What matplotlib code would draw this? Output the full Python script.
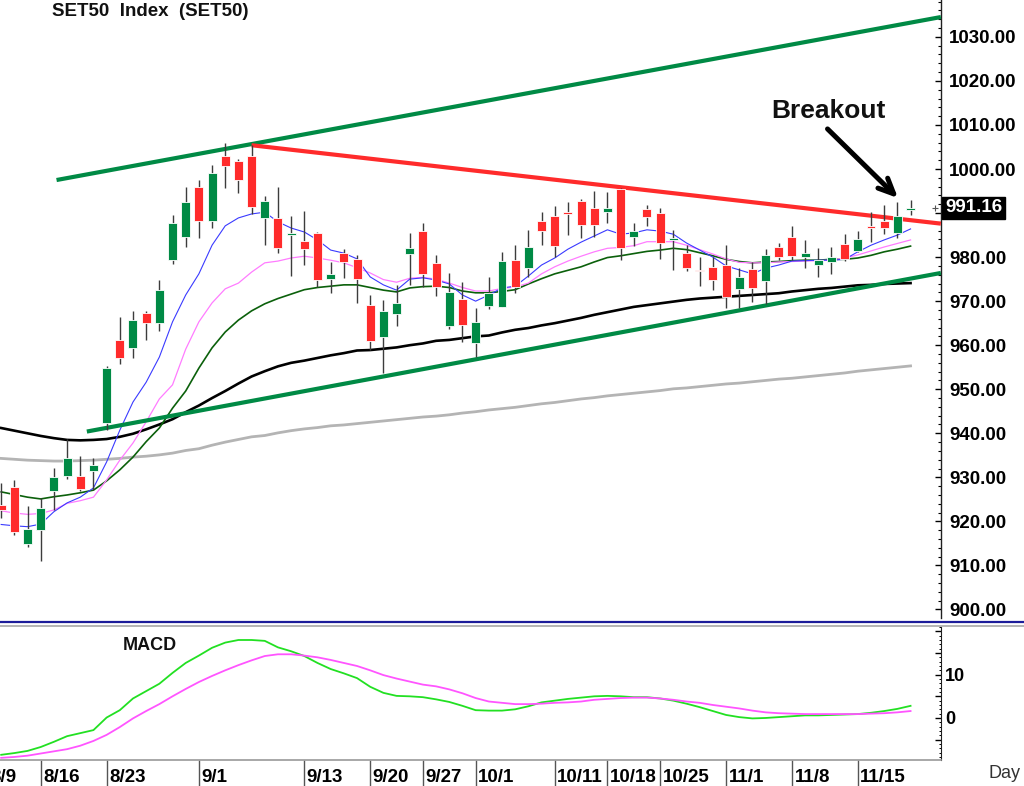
import matplotlib
matplotlib.use('Agg')
import matplotlib.pyplot as plt
from matplotlib.lines import Line2D
from matplotlib.transforms import blended_transform_factory, ScaledTranslation
from matplotlib.ticker import MultipleLocator, FixedLocator
import numpy as np

plt.rcParams['font.family'] = ['Liberation Sans', 'DejaVu Sans']

# ---------------- data ----------------
dates = ['8/10', '8/11', '8/13', '8/16', '8/17', '8/18', '8/19', '8/20', '8/23', '8/24',
         '8/25', '8/26', '8/27', '8/30', '8/31', '9/1', '9/2', '9/3', '9/6', '9/7',
         '9/8', '9/9', '9/10', '9/13', '9/14', '9/15', '9/16', '9/17', '9/20', '9/21',
         '9/22', '9/23', '9/27', '9/28', '9/29', '9/30', '10/1', '10/4', '10/5', '10/6',
         '10/7', '10/8', '10/11', '10/12', '10/14', '10/15', '10/18', '10/19', '10/20', '10/21',
         '10/25', '10/26', '10/27', '10/28', '10/29', '11/1', '11/2', '11/3', '11/4', '11/5',
         '11/8', '11/9', '11/10', '11/11', '11/12', '11/15', '11/16', '11/17', '11/18', '11/19']

opens = [923.7, 927.7, 914.9, 918.0, 927.0, 930.3, 930.3, 931.4, 942.3, 961.2,
         959.4, 967.4, 965.1, 979.3, 984.6, 996.0, 988.2, 1002.9, 1001.8, 1002.9,
         988.9, 988.8, 985.0, 983.7, 985.4, 975.0, 980.9, 979.6, 969.1, 961.9,
         967.0, 980.6, 986.0, 978.6, 964.4, 970.5, 960.6, 969.0, 968.7, 979.3,
         977.6, 988.3, 989.4, 990.3, 992.8, 991.1, 990.3, 995.4, 984.5, 990.9,
         990.1, 983.9, 981.0, 977.0, 977.8, 978.2, 972.8, 977.2, 974.6, 982.2,
         984.6, 980.0, 978.2, 978.8, 983.0, 981.5, 987.1, 988.2, 985.4, 990.7]
highs = [928.7, 929.4, 923.6, 925.2, 932.1, 938.6, 934.8, 934.3, 955.3, 966.3,
         967.8, 967.8, 974.8, 989.6, 996.0, 997.5, 1000.9, 1005.8, 1002.3, 1005.4,
         993.9, 996.0, 989.3, 990.5, 985.8, 979.0, 981.8, 980.5, 971.4, 970.3,
         973.7, 985.4, 987.8, 980.5, 976.5, 974.4, 968.4, 975.5, 981.2, 982.7,
         986.2, 990.3, 991.6, 992.4, 993.3, 995.1, 994.8, 995.6, 987.7, 991.8,
         991.1, 986.2, 982.7, 980.1, 980.1, 982.7, 977.5, 979.0, 981.8, 983.1,
         987.1, 983.9, 982.0, 982.2, 985.2, 986.0, 990.2, 991.8, 992.4, 993.0]
lows = [920.8, 916.9, 914.3, 910.9, 922.7, 929.6, 927.0, 927.1, 940.7, 955.7,
        957.0, 961.2, 963.2, 978.4, 982.4, 984.3, 986.5, 995.6, 994.5, 989.9,
        982.7, 980.9, 975.8, 978.2, 973.3, 971.8, 975.3, 969.6, 958.9, 953.8,
        964.4, 973.7, 973.3, 971.2, 963.7, 960.7, 957.3, 968.2, 968.6, 971.8,
        975.5, 982.7, 980.0, 985.0, 984.3, 984.5, 987.7, 979.3, 982.5, 987.0,
        979.6, 977.1, 976.8, 973.4, 972.5, 968.4, 968.4, 969.9, 969.4, 979.3,
        979.3, 977.5, 975.4, 976.2, 979.2, 981.2, 983.5, 985.2, 984.3, 989.6]
closes = [922.6, 917.7, 918.3, 923.0, 930.1, 934.5, 927.3, 932.7, 954.8, 957.0,
          965.7, 965.1, 972.5, 987.7, 992.4, 988.3, 999.0, 1000.7, 997.5, 991.4,
          992.7, 982.0, 985.4, 981.8, 974.8, 976.2, 978.8, 975.0, 960.9, 967.8,
          969.6, 982.0, 976.2, 973.3, 972.1, 964.6, 965.3, 971.8, 979.1, 973.3,
          982.4, 985.9, 982.6, 989.7, 987.3, 987.4, 991.1, 982.1, 986.0, 989.0,
          983.1, 984.4, 977.6, 976.8, 974.8, 971.0, 975.4, 972.9, 980.5, 980.1,
          980.3, 980.9, 979.3, 980.1, 979.6, 984.1, 986.7, 986.7, 989.3, 991.16]

ma5 = [919.3, 919.0, 918.8, 919.4, 922.2, 924.2, 925.5, 927.6, 933.5, 940.7,
       947.1, 951.6, 957.3, 965.3, 971.4, 976.2, 982.7, 987.1, 988.9, 989.8,
       990.2, 988.0, 986.6, 985.7, 983.9, 981.6, 980.9, 979.6, 975.5, 973.7,
       972.5, 975.0, 975.3, 974.8, 973.9, 971.4, 970.0, 971.4, 973.0, 973.4,
       975.7, 978.2, 979.8, 981.8, 983.4, 984.8, 986.2, 985.2, 985.5, 986.2,
       985.9, 985.2, 983.2, 981.6, 980.0, 978.0, 977.1, 976.2, 977.5, 978.2,
       979.1, 979.2, 979.3, 979.3, 979.5, 981.2, 982.7, 983.9, 985.0, 986.4]
ma10 = [922.4, 921.9, 921.6, 921.8, 922.6, 924.1, 924.7, 925.5, 929.4, 933.9,
        937.8, 942.6, 947.8, 951.0, 959.1, 965.3, 969.6, 972.8, 974.1, 976.6,
        978.7, 979.1, 979.8, 980.2, 979.8, 979.3, 978.7, 977.6, 976.4, 974.9,
        974.3, 975.2, 975.4, 975.0, 974.1, 973.1, 972.3, 972.3, 972.9, 973.2,
        974.1, 976.2, 977.8, 979.1, 980.2, 981.2, 982.0, 982.2, 982.6, 983.5,
        983.5, 983.5, 982.7, 981.7, 980.7, 979.6, 978.8, 978.7, 978.7, 978.9,
        979.0, 979.1, 979.2, 979.3, 979.8, 980.5, 981.4, 982.3, 983.1, 983.9]
ma25 = [926.7, 926.1, 925.5, 925.1, 925.6, 926.0, 926.5, 927.1, 929.2, 931.7,
        934.6, 938.1, 941.2, 945.7, 949.6, 954.8, 959.4, 963.0, 965.7, 967.8,
        969.4, 970.6, 971.6, 972.6, 973.1, 973.4, 973.7, 973.7, 973.1, 972.5,
        972.1, 973.0, 973.3, 973.4, 973.1, 972.3, 971.9, 971.9, 972.2, 972.6,
        973.9, 975.1, 976.2, 977.0, 977.8, 978.9, 979.9, 980.3, 980.8, 981.3,
        981.6, 982.0, 981.7, 981.0, 980.3, 979.5, 979.0, 978.7, 978.9, 979.0,
        979.2, 979.3, 979.3, 979.5, 979.5, 979.8, 980.4, 981.2, 981.8, 982.5]
ma50 = [941.2, 940.6, 940.0, 939.4, 938.9, 938.5, 938.4, 938.5, 938.7, 939.2,
        939.9, 940.9, 942.0, 943.2, 944.8, 946.3, 948.0, 949.6, 951.3, 952.9,
        954.1, 955.2, 956.0, 956.5, 957.1, 957.7, 958.2, 958.8, 958.9, 959.2,
        959.5, 960.0, 960.4, 961.0, 961.2, 961.6, 962.0, 962.2, 962.9, 963.5,
        963.9, 964.5, 965.0, 965.6, 966.2, 966.9, 967.5, 968.1, 968.7, 969.1,
        969.5, 969.9, 970.3, 970.6, 970.8, 971.0, 971.2, 971.4, 971.6, 971.8,
        972.2, 972.5, 972.8, 973.0, 973.3, 973.6, 973.7, 973.9, 974.0, 974.1]
ma200 = [934.3, 934.1, 933.9, 933.8, 933.7, 933.7, 933.8, 933.9, 934.1, 934.3,
         934.6, 934.8, 935.1, 935.5, 936.1, 936.5, 937.3, 938.0, 938.6, 939.2,
         939.5, 940.1, 940.6, 941.0, 941.3, 941.7, 941.9, 942.2, 942.5, 942.8,
         943.1, 943.4, 943.7, 943.9, 944.2, 944.6, 944.9, 945.3, 945.6, 945.9,
         946.3, 946.7, 947.0, 947.4, 947.8, 948.1, 948.5, 948.8, 949.1, 949.4,
         949.7, 950.1, 950.3, 950.6, 950.9, 951.2, 951.4, 951.7, 952.0, 952.3,
         952.5, 952.8, 953.1, 953.4, 953.7, 954.1, 954.4, 954.7, 955.0, 955.3]

macd = [-8.5, -8.1, -7.6, -6.7, -5.5, -4.2, -3.5, -2.8, 0.1, 1.8,
        4.5, 6.2, 7.9, 10.4, 12.7, 14.4, 16.2, 17.4, 18.0, 18.0,
        17.8, 16.3, 15.4, 14.3, 12.7, 11.3, 10.3, 9.2, 7.2, 5.8,
        5.1, 5.0, 4.8, 4.3, 3.7, 2.8, 1.8, 1.7, 1.7, 2.0,
        2.7, 3.6, 4.0, 4.4, 4.7, 5.0, 5.1, 5.0, 4.8, 4.8,
        4.5, 4.0, 3.3, 2.5, 1.6, 0.7, 0.2, -0.1, 0.0, 0.2,
        0.4, 0.6, 0.6, 0.7, 0.8, 0.9, 1.2, 1.6, 2.1, 2.8]
signal = [-9.2, -9.0, -8.7, -8.2, -7.7, -7.2, -6.4, -5.3, -3.9, -2.1,
          -0.1, 1.6, 3.2, 5.0, 6.7, 8.3, 9.7, 11.0, 12.2, 13.3,
          14.3, 14.7, 14.7, 14.4, 14.0, 13.4, 12.7, 12.0, 11.0, 9.9,
          9.1, 8.4, 7.7, 7.3, 6.6, 5.7, 4.6, 3.8, 3.5, 3.2,
          3.2, 3.3, 3.5, 3.6, 3.8, 4.2, 4.4, 4.6, 4.7, 4.7,
          4.5, 4.2, 3.8, 3.5, 3.0, 2.6, 2.2, 1.7, 1.3, 1.1,
          1.0, 0.9, 0.9, 0.9, 0.9, 0.9, 1.0, 1.1, 1.3, 1.6]

# trend lines: (day position, price) end points
upper_channel_x = [5.2, 72.3]
upper_channel_y = [997.5, 1034.5]
lower_channel_x = [7.5, 72.3]
lower_channel_y = [940.4, 976.4]
resistance_x = [20.0, 72.3]
resistance_y = [1005.4, 987.6]

tick_labels = ['8/9', '8/16', '8/23', '9/1', '9/13', '9/20', '9/27', '10/1',
               '10/11', '10/18', '10/25', '11/1', '11/8', '11/15']
tick_pos = [0, 4, 9, 16, 24, 29, 33, 37, 43, 47, 51, 56, 61, 66]

price_ticks = [900, 910, 920, 930, 940, 950, 960, 970, 980, 990, 1000, 1010, 1020, 1030]
last_price = 991.16

# ---------------- figure ----------------
W, H = 1024, 786
fig = plt.figure(figsize=(W / 100, H / 100), dpi=100)
fig.patch.set_facecolor('white')

def fx(px):
    return px / W

def fy(py):
    return 1 - py / H

ax = fig.add_axes([0, fy(618), fx(941), fy(0) - fy(618)])
axm = fig.add_axes([0, fy(760), fx(941), fy(627) - fy(760)], sharex=ax)

x = np.arange(1, len(dates) + 1)
XMIN, XMAX = 0.91, 72.31
ax.set_ylim(898.07, 1038.37)
axm.set_ylim(-9.7, 21.0)

GREEN = '#008a45'
RED = '#ff2b2b'

# moving averages
ax.plot(x, ma200, color='#b4b4b4', lw=2.0, zorder=2)
ax.plot(x, ma50, color='#000000', lw=1.9, zorder=2.2)
ax.plot(x, ma25, color='#0b600b', lw=1.2, zorder=2.3)
ax.plot(x, ma10, color='#ff7cff', lw=0.9, zorder=2.4)
ax.plot(x, ma5, color='#3a3aff', lw=0.8, zorder=2.5)

# trend lines
ax.plot(upper_channel_x, upper_channel_y, color=GREEN, lw=3.0, solid_capstyle='butt', zorder=3, clip_on=False)
ax.plot(lower_channel_x, lower_channel_y, color=GREEN, lw=3.0, solid_capstyle='butt', zorder=3, clip_on=False)
ax.plot(resistance_x, resistance_y, color=RED, lw=3.0, solid_capstyle='butt', zorder=3, clip_on=False)

# candles
o = np.array(opens); c = np.array(closes); h = np.array(highs); l = np.array(lows)
up = c >= o
cols = np.where(up, GREEN, RED)
ax.vlines(x, l, h, color='#3c3c3c', lw=1.0, zorder=4)
bottoms = np.minimum(o, c)
heights = np.maximum(np.abs(c - o), 0.35)
ax.bar(x, heights, bottom=bottoms, width=0.68, color=cols, edgecolor='white',
       linewidth=0.6, zorder=5)

# axes styling - price
for s in ['left', 'top', 'bottom']:
    ax.spines[s].set_visible(False)
ax.spines['right'].set_color('#202020')
ax.spines['right'].set_linewidth(1.0)
ax.yaxis.tick_right()
ax.yaxis.set_major_locator(FixedLocator(price_ticks))
ax.set_yticklabels(['' if v == 990 else f'{v:.2f}' for v in price_ticks])
ax.yaxis.set_minor_locator(MultipleLocator(2))
ax.tick_params(axis='y', which='major', direction='in', length=4, width=1, pad=6,
               labelsize=13.5, colors='#000000')
ax.tick_params(axis='y', which='minor', direction='in', length=2, width=0.8)
for t in ax.get_yticklabels():
    t.set_fontweight('bold')
ax.tick_params(axis='x', which='both', bottom=False, labelbottom=False)

# last price box
tr = blended_transform_factory(ax.transAxes, ax.transData)
ax.text(1.0, last_price, f'{last_price:.2f}', transform=tr + ScaledTranslation(4 / 100, 0, fig.dpi_scale_trans),
        ha='left', va='center', color='white', fontsize=13.5, fontweight='bold',
        bbox=dict(boxstyle='square,pad=0.15', facecolor='black', edgecolor='black'),
        zorder=10, clip_on=False)
ax.plot([71.85], [last_price], marker='+', color='#555555', ms=4, mew=0.8, zorder=6, clip_on=False)

# annotations
ax.text(52 / 941, 1 - 12 / 618, 'SET50  Index  (SET50)', transform=ax.transAxes,
        ha='left', va='center', fontsize=13.5, fontweight='bold', color='#111111')
ax.annotate('', xy=(69.05, 993.4), xytext=(63.7, 1009.1),
            arrowprops=dict(arrowstyle='->,head_length=1.1,head_width=0.5', color='black', lw=3.6,
                            shrinkA=0, shrinkB=0), zorder=7)
ax.text(63.8, 1013.2, 'Breakout', ha='center', va='center', fontsize=19,
        fontweight='bold', color='#111111')

# MACD
axm.plot(x, macd, color='#22e022', lw=1.3)
axm.plot(x, signal, color='#ff55ff', lw=1.3)
for s in ['left', 'top']:
    axm.spines[s].set_visible(False)
axm.spines['right'].set_color('#202020')
axm.spines['bottom'].set_color('#9a9a9a')
axm.spines['bottom'].set_linewidth(1.2)
axm.yaxis.tick_right()
axm.yaxis.set_major_locator(FixedLocator([-5, 0, 5, 10, 15, 20]))
axm.set_yticklabels(['', '0', '', '10', '', ''])
axm.yaxis.set_minor_locator(MultipleLocator(1))
axm.tick_params(axis='y', which='major', direction='in', length=4, width=1, pad=3,
                labelsize=13)
axm.tick_params(axis='y', which='minor', direction='in', length=1.5, width=0.7)
for t in axm.get_yticklabels():
    t.set_fontweight('bold')
axm.text(150 / 941, 1 - (645 - 627) / 133, 'MACD', transform=axm.transAxes,
         ha='center', va='center', fontsize=13, fontweight='bold', color='#111111')

# x axis labels with separators
axm.set_xticks(tick_pos)
axm.set_xticklabels([''] * len(tick_pos))
axm.tick_params(axis='x', which='major', direction='out', length=19, width=1.0,
                color='#555555', bottom=True)
axm.tick_params(axis='x', which='minor', bottom=False)
# set_xticks may widen the view; restore the day range
ax.set_xlim(XMIN, XMAX)
trx = blended_transform_factory(axm.transData, axm.transAxes) + ScaledTranslation(2.5 / 100, 0, fig.dpi_scale_trans)
for p, lab in zip(tick_pos, tick_labels):
    axm.text(p, -9 / 133, lab, transform=trx, ha='left', va='top', fontsize=13.5,
             fontweight='bold', color='#000000', clip_on=False)
fig.text(fx(1005), fy(773), 'Day', ha='center', va='center', fontsize=13, color='#333333')

# separator lines
fig.add_artist(Line2D([0, 1], [fy(622.3), fy(622.3)], color='#1c1c9a', lw=1.6))
fig.add_artist(Line2D([0, 1], [fy(626), fy(626)], color='#a8a8a8', lw=1.2))

fig.savefig('out.png', dpi=100, facecolor='white')
